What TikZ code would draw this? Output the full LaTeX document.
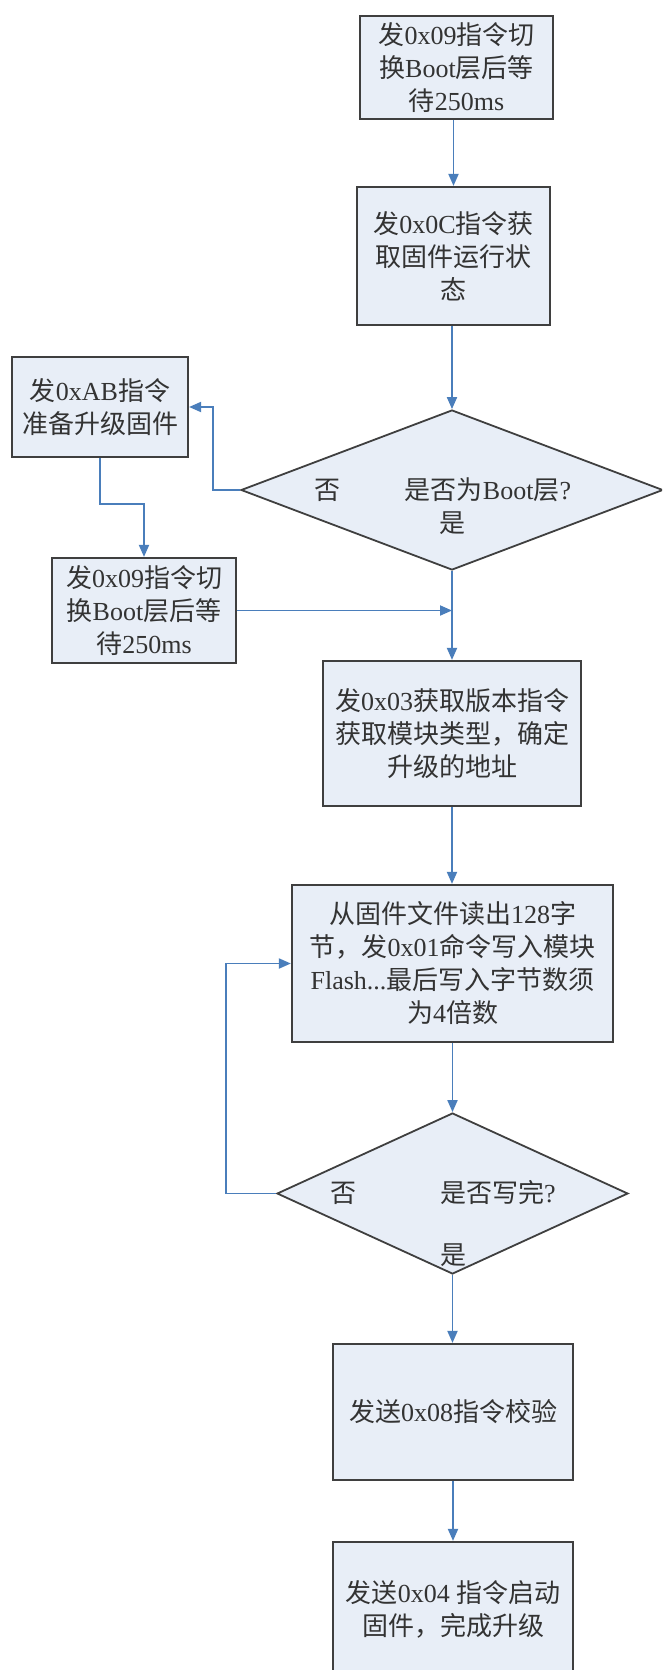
\documentclass[tikz,border=0pt]{standalone}
\usepackage{fontspec}
\setmainfont{Liberation Serif}
\newfontfamily\cjk{Noto Sans CJK SC}
\usetikzlibrary{arrows.meta,shapes.geometric}
\newcommand{\zh}[1]{{\cjk #1}}
\definecolor{boxfill}{HTML}{E8EEF7}
\definecolor{boxline}{HTML}{3F3F3F}
\definecolor{arrowblue}{HTML}{4A7EBB}
\definecolor{txt}{HTML}{333333}
\begin{document}
\begin{tikzpicture}[x=1pt,y=-1pt,
  box/.style={draw=boxline, line width=2.2pt, fill=boxfill, inner sep=0pt, align=center, text=txt, font=\fontsize{26}{33}\selectfont},
  dia/.style={diamond, draw=boxline, line width=1.8pt, fill=boxfill, inner sep=0pt},
  lbl/.style={text=txt, font=\fontsize{26}{33}\selectfont, inner sep=0pt},
  conn/.style={draw=arrowblue, line width=1.9pt},
  arr/.style={conn, -{Triangle[length=12pt,width=10pt]}}]
\useasboundingbox (0,0) rectangle (662,1670);
\clip (0,0) rectangle (662,1670);

% boxes
\node[box, minimum width=193pt, minimum height=103pt] (b1) at (456.5,67.5)
  {\zh{发}0x09\zh{指令切}\\\zh{换}Boot\zh{层后等}\\\zh{待}250ms};
\node[box, minimum width=193pt, minimum height=138pt] (b2) at (453.5,256)
  {\zh{发}0x0C\zh{指令获}\\\zh{取固件运行状}\\\zh{态}};
\node[dia, minimum width=422pt, minimum height=160pt] (d1) at (452,490) {};
\node[lbl] (d1no) at (327,490) {\zh{否}};
\node[lbl] (d1q) at (488,490) {\zh{是否为}Boot\zh{层}?};
\node[lbl] (d1yes) at (452,523) {\zh{是}};
\node[box, minimum width=176pt, minimum height=100pt] (ab) at (100,407)
  {\zh{发}0xAB\zh{指令}\\\zh{准备升级固件}};
\node[box, minimum width=184pt, minimum height=105pt] (b09) at (144,610.5)
  {\zh{发}0x09\zh{指令切}\\\zh{换}Boot\zh{层后等}\\\zh{待}250ms};
\node[box, minimum width=258pt, minimum height=145pt] (b03) at (452,733.5)
  {\zh{发}0x03\zh{获取版本指令}\\\zh{获取模块类型，确定}\\\zh{升级的地址}};
\node[box, minimum width=321pt, minimum height=157pt] (b128) at (452.5,963.5)
  {\zh{从固件文件读出}128\zh{字}\\\zh{节，发}0x01\zh{命令写入模块}\\Flash...\zh{最后写入字节数须}\\\zh{为}4\zh{倍数}};
\node[dia, minimum width=351pt, minimum height=161pt] (d2) at (452.5,1193.5) {};
\node[lbl] (d2no) at (343,1193) {\zh{否}};
\node[lbl] (d2q) at (498,1193) {\zh{是否写完}?};
\node[lbl] (d2yes) at (453,1255) {\zh{是}};
\node[box, minimum width=240pt, minimum height=136pt] (b08) at (453,1412)
  {\zh{发送}0x08\zh{指令校验}};
\node[box, minimum width=240pt, minimum height=134pt] (b04) at (453,1609)
  {\zh{发送}0x04 \zh{指令启动}\\\zh{固件，完成升级}};

% connectors
\draw[arr] (b2.north |- b1.south) -- (b2.north);
\draw[arr] (d1.north |- b2.south) -- (d1.north);
\draw[arr] (d1.west) -- ++(-27,0) |- (ab.east);
\draw[arr] (ab.south) -- ++(0,46) -| (b09.north);
\draw[arr] (d1.south) -- (d1.south |- b03.north);
\draw[arr] (b09.east) -- (b09.east -| d1.south);
\draw[arr] (b03.south) -- (b03.south |- b128.north);
\draw[arr] (b128.south) -- (b128.south |- d2.north);
\draw[arr] (d2.west) -- ++(-50,0) |- (b128.west);
\draw[arr] (d2.south) -- (d2.south |- b08.north);
\draw[arr] (b08.south) -- (b04.north);
\end{tikzpicture}
\end{document}
